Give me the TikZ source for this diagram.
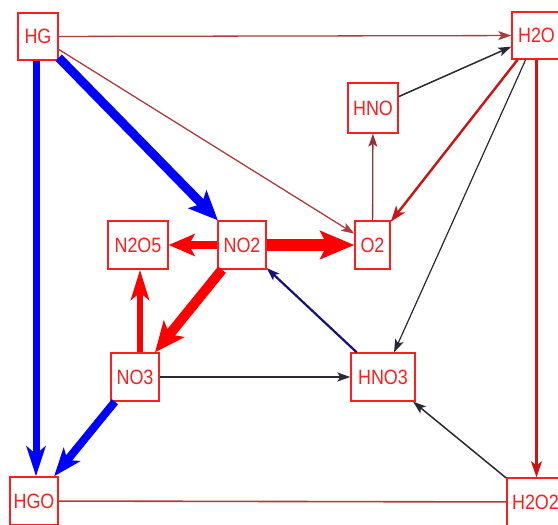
\documentclass[tikz,border=0pt]{standalone}
\usepackage{fontspec}
\setmainfont{Liberation Sans}
\usetikzlibrary{arrows.meta}
\definecolor{nodered}{RGB}{255,30,30}
\definecolor{thinred}{RGB}{175,60,60}
\definecolor{darkred}{RGB}{205,20,20}
\definecolor{maroonish}{RGB}{150,50,55}
\definecolor{navyish}{RGB}{20,20,120}
\definecolor{slateish}{RGB}{40,40,55}
\newcommand{\lbl}[1]{\scalebox{0.97}[1.12]{#1}}
\begin{document}
\begin{tikzpicture}[x=1pt,y=-1pt,
  box/.style={draw=nodered, line width=1.4pt, text=nodered, font=\fontsize{18.5}{18.5}\selectfont, minimum height=48pt, inner sep=0pt, fill=white},
  thinarr/.style={line width=1.3pt, -{Stealth[length=13pt,width=9pt,inset=3pt]}},
  medarr/.style={line width=2.4pt, -{Stealth[length=16pt,width=11pt,inset=4pt]}},
]
\clip (0,0) rectangle (558,525);
\fill[white] (0,0) rectangle (558,525);
% nodes
\node[box, minimum width=40pt, minimum height=47pt] (HG) at (38,36.5) {\lbl{HG}};
\node[box, minimum width=49pt, minimum height=47pt] (H2O) at (536.5,35.5) {\lbl{H2O}};
\node[box, minimum width=50pt, minimum height=50pt] (HNO) at (373,108) {\lbl{HNO}};
\node[box, minimum width=35pt] (O2) at (372.5,245) {\lbl{O2}};
\node[box, minimum width=48pt] (NO2) at (242,245) {\lbl{NO2}};
\node[box, minimum width=60pt] (N2O5) at (138,245) {\lbl{N2O5}};
\node[box, minimum width=48pt] (NO3) at (135,377) {\lbl{NO3}};
\node[box, minimum width=64pt] (HNO3) at (383,377) {\lbl{HNO3}};
\node[box, minimum width=48pt] (HGO) at (34,501) {\lbl{HGO}};
\node[box, minimum width=57pt] (H2O2) at (535.5,502) {\lbl{H2O2}};
% thin edges
\draw[thinarr, thinred] (HG) -- (H2O);
\draw[thinarr, thinred] (HG) -- (O2);
\draw[thinarr, maroonish] (O2) -- (HNO);
\draw[thinarr, slateish, line width=1.5pt] (HNO) -- (H2O);
\draw[medarr, darkred] (H2O) -- (O2);
\draw[thinarr, slateish, line width=1.2pt] (H2O) -- (HNO3);
\draw[medarr, darkred, line width=2.2pt] (H2O) -- (H2O |- H2O2.north);
\draw[thinarr, slateish, line width=1.5pt] (H2O2) -- (HNO3);
\draw[thinarr, slateish] (NO3) -- (HNO3);
\draw[thinarr, navyish, line width=2.2pt] (HNO3) -- (NO2);
\draw[thinred, line width=1.6pt] (HGO) -- (H2O2);
% thick edges
\draw[blue, line width=9pt, -{Stealth[length=29pt,width=25pt,inset=6pt]}] (HG) -- (NO2);
\draw[blue, line width=7pt, -{Stealth[length=30pt,width=19pt,inset=8pt]}] ([xshift=-2pt]HG.south) -- ([xshift=-2pt]HG.south |- HGO.north);
\draw[blue, line width=8pt, -{Stealth[length=28pt,width=21pt,inset=7pt]}] (NO3) -- (HGO);
\draw[red, line width=8pt, -{Stealth[length=26pt,width=22pt,inset=6pt]}] (NO2) -- (N2O5);
\draw[red, line width=12pt, -{Stealth[length=34pt,width=28pt,inset=7pt]}] (NO2) -- (O2);
\draw[red, line width=10pt, -{Stealth[length=30pt,width=26pt,inset=7pt]}] (NO2) -- (NO3);
\draw[red, line width=6.5pt, -{Stealth[length=30pt,width=18pt,inset=7pt]}] ([xshift=5pt]NO3.north) -- ([xshift=5pt]NO3.north |- N2O5.south);
\end{tikzpicture}
\end{document}
